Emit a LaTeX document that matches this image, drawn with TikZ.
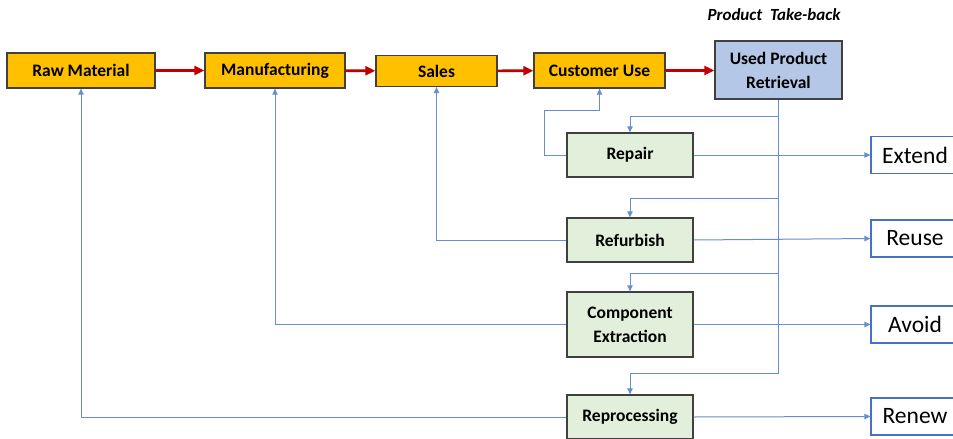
\documentclass[tikz,border=0pt]{standalone}
\usepackage{fontspec}
\setmainfont{Carlito}
\usetikzlibrary{arrows.meta, positioning}

\definecolor{stageorange}{HTML}{FFC000}
\definecolor{takeblue}{HTML}{B4C7E7}
\definecolor{optiongreen}{HTML}{E2EFDA}
\definecolor{linkblue}{HTML}{4472C4}
\definecolor{flowred}{HTML}{C00000}

\begin{document}
\begin{tikzpicture}[x=1pt, y=-1pt,
  stage/.style={rectangle, draw=black!75, line width=1.3pt, fill=stageorange, inner sep=0pt, align=center, font=\bfseries\fontsize{17.5}{24}\selectfont},
  option/.style={stage, fill=optiongreen, minimum width=126pt},
  goal/.style={rectangle, draw=linkblue, line width=1.2pt, fill=white, inner sep=0pt, minimum width=88pt, minimum height=37pt, font=\fontsize{23.5}{26}\selectfont},
  flow/.style={draw=flowred, line width=2.6pt, -{Triangle[length=10pt,width=9pt]}},
  link/.style={draw=linkblue!80, line width=1pt, -{Triangle[length=6pt,width=5.5pt]}}]

\useasboundingbox (0,0) rectangle (953,439);

% main chain
\node[stage, minimum width=148pt, minimum height=35pt] (raw) at (81,70.5) {Raw Material};
\node[stage, minimum width=140pt, minimum height=35pt] (manu) at (275,70.5) {Manufacturing};
\node[stage, minimum width=121pt, minimum height=31pt] (sales) at (436.5,71) {Sales};
\node[stage, minimum width=131pt, minimum height=35pt] (use) at (599.5,70.5) {Customer Use};
\node[stage, fill=takeblue, minimum width=127pt, minimum height=58pt] (retrieval) at (778.5,70) {Used Product\\Retrieval};
\node[font=\bfseries\itshape\fontsize{17}{20}\selectfont] (takeback) at (774,15) {Product\ \ Take-back};

% recovery options
\node[option, minimum height=44pt] (repair) at (630,155) {Repair};
\node[option, minimum height=44pt] (refurbish) at (630,240) {Refurbish};
\node[option, minimum height=65pt] (extraction) at (630,324.5) {Component\\Extraction};
\node[option, minimum height=44pt] (reprocessing) at (630,417) {Reprocessing};

% outcomes
\node[goal] (extend) at (915,155) {Extend\hspace{4pt}};
\node[goal] (reuse) at (915,238.5) {Reuse\hspace{4pt}};
\node[goal] (avoid) at (915,324.5) {Avoid\hspace{4pt}};
\node[goal] (renew) at (915,416.5) {Renew\hspace{4pt}};

\path[flow] (raw) -- (manu);
\path[flow] (manu) -- (sales);
\path[flow] (sales) -- (use);
\path[flow] (use) -- (retrieval.west |- use);

% take-back trunk
\coordinate (j1) at (retrieval.south |- 0,116);
\coordinate (j2) at (retrieval.south |- 0,198);
\coordinate (j3) at (retrieval.south |- 0,273);
\coordinate (j4) at (retrieval.south |- 0,373);
\draw[link, -] (retrieval.south) -- (j4);
\draw[link] (j1) -| (repair.north);
\draw[link] (j2) -| (refurbish.north);
\draw[link] (j3) -| (extraction.north);
\draw[link] (j4) -| (reprocessing.north);

% loops back
\coordinate (bend) at (544,110);
\draw[link] (repair.west) -| (bend) -| (use.south);
\draw[link] (refurbish.west) -| (sales.south);
\draw[link] (extraction.west) -| (manu.south);
\draw[link] (reprocessing.west) -| (raw.south);

\draw[link] (repair.east) -- (extend.west);
\draw[link] (refurbish.east) -- (reuse.west);
\draw[link] (extraction.east) -- (avoid.west);
\draw[link] (reprocessing.east) -- (renew.west);

\end{tikzpicture}
\end{document}
